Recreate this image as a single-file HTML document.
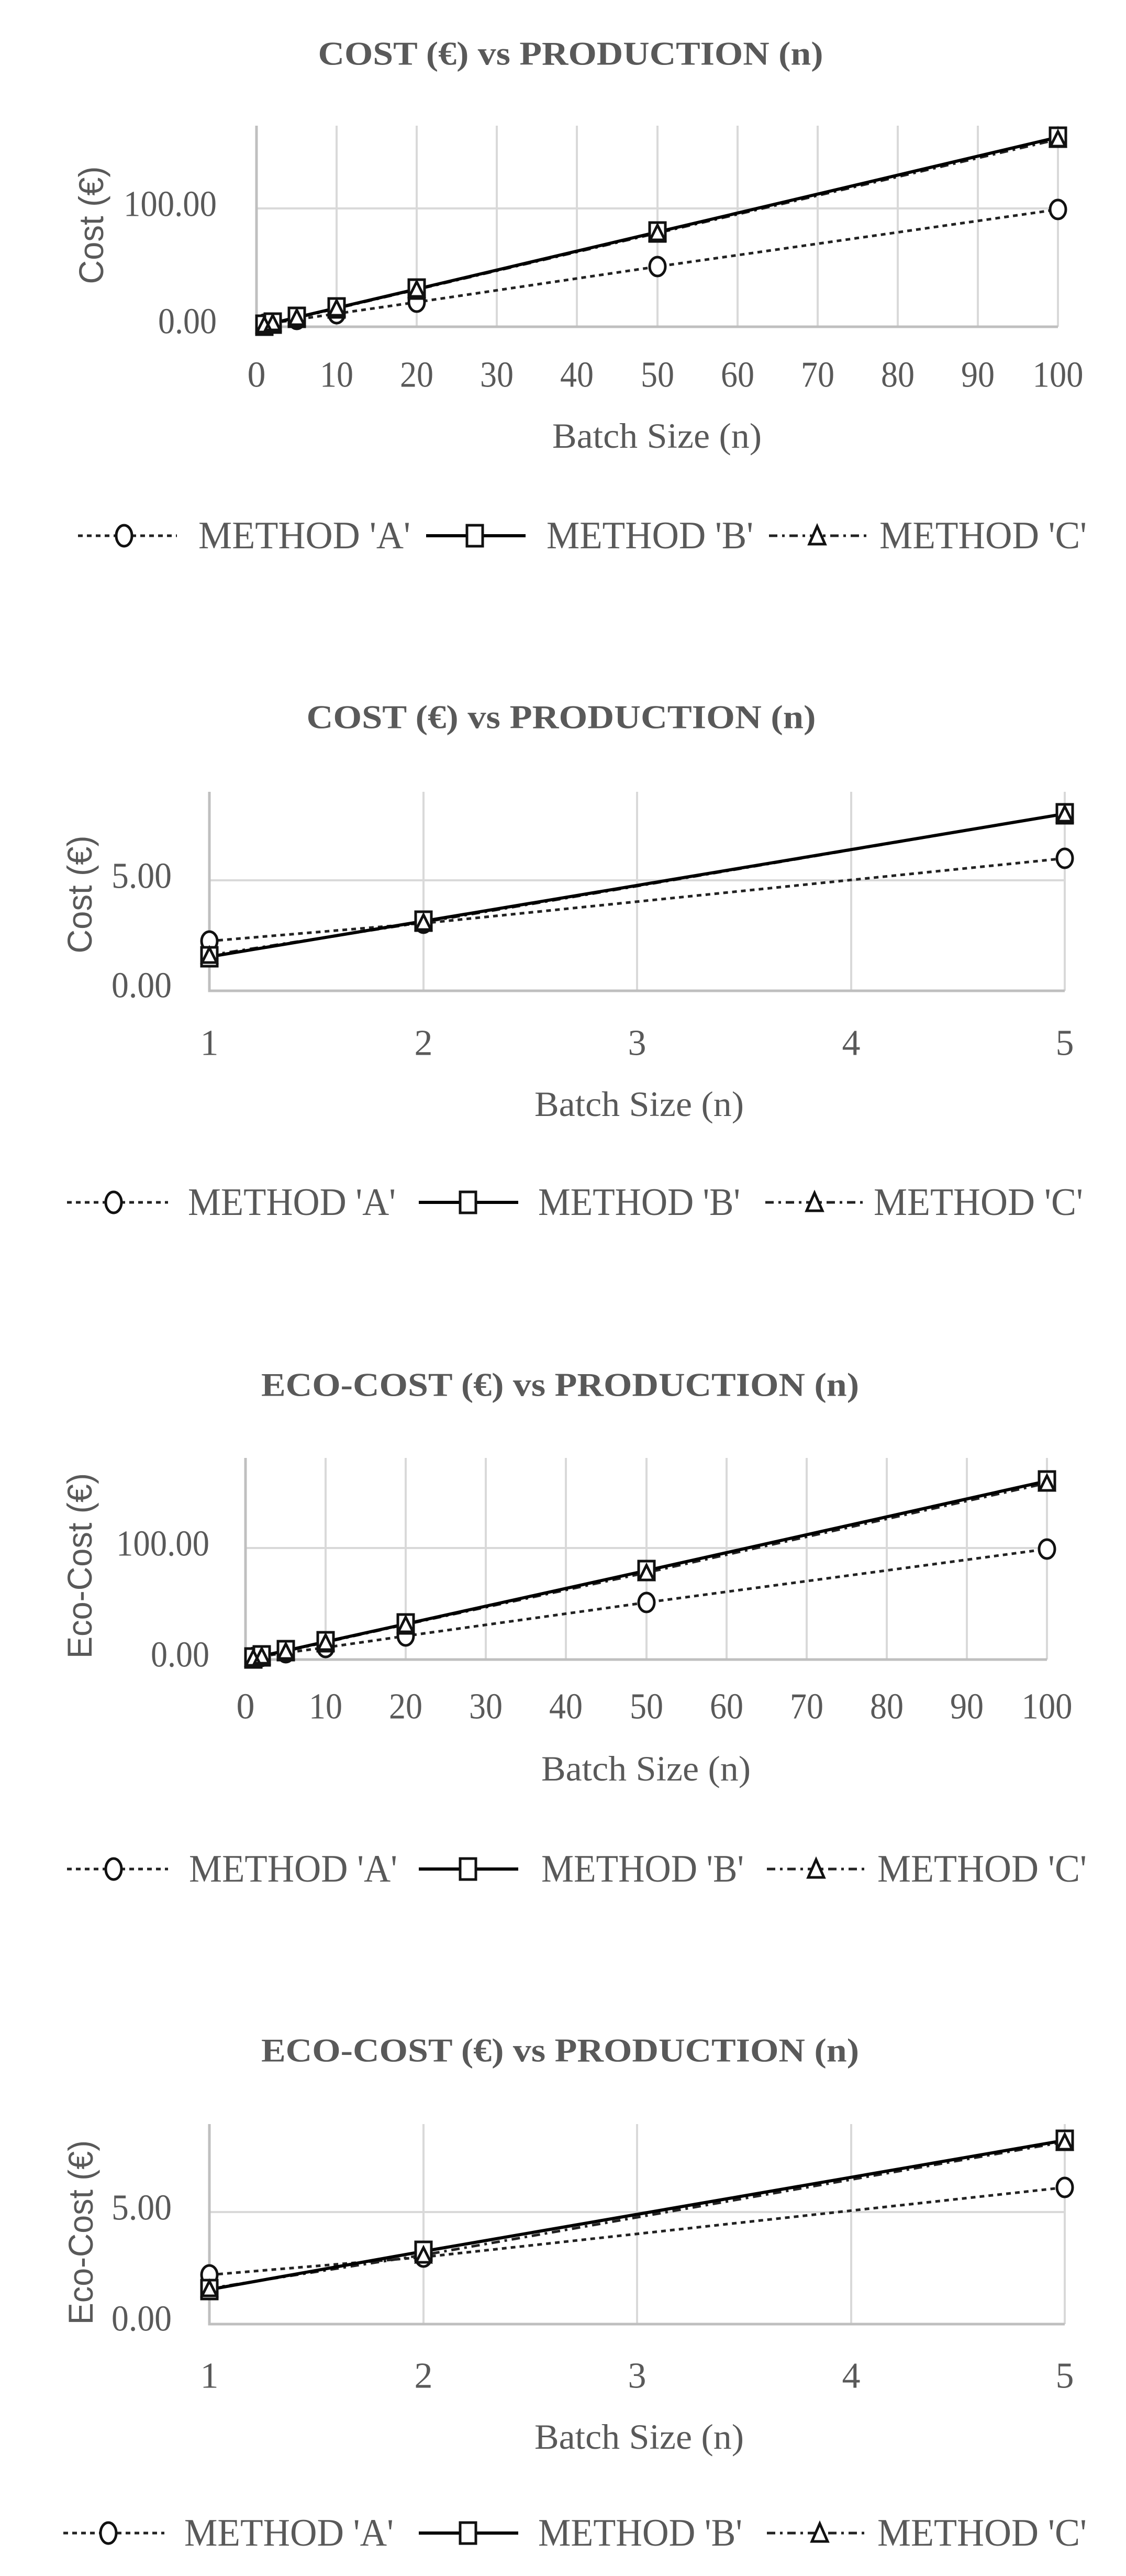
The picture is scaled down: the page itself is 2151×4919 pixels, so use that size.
<!DOCTYPE html>
<html><head><meta charset="utf-8"><style>
html,body{margin:0;padding:0;background:#fff}
svg{display:block}
text{font-family:"Liberation Serif",serif;fill:#595959}
.t{font-weight:bold;font-size:64px}
.tk{font-size:70px}
.ax{font-size:68px}
.yt{font-family:"Liberation Sans",sans-serif;font-size:66px}
.lg{font-size:74px}
.g{stroke:#d9d9d9;stroke-width:4;fill:none}
.b{stroke:#bfbfbf;stroke-width:5;fill:none}
.la{stroke:#222;stroke-width:5;stroke-dasharray:9 8;fill:none}
.lb{stroke:#000;stroke-width:6;fill:none}
.lc{stroke:#222;stroke-width:5;stroke-dasharray:16 9 5 9;fill:none}
.m{fill:#fff;stroke:#111;stroke-width:5}
</style></head><body>
<svg width="2151" height="4919" viewBox="0 0 2151 4919" xmlns="http://www.w3.org/2000/svg">
<rect width="2151" height="4919" fill="#fff"/>

<!-- ===== CHART 1 ===== -->
<text class="t" x="1090" y="102" text-anchor="middle" dominant-baseline="central" textLength="965" lengthAdjust="spacingAndGlyphs">COST (€) vs PRODUCTION (n)</text>
<g class="g">
<path d="M643 240V624M796 240V624M949 240V624M1102 240V624M1256 240V624M1409 240V624M1562 240V624M1715 240V624M1868 240V624M2021 240V624M490 398H2021"/>
</g>
<path class="b" d="M490 240V624H2021"/>
<text class="tk" x="414" y="390" text-anchor="end" dominant-baseline="central" textLength="178" lengthAdjust="spacingAndGlyphs">100.00</text>
<text class="tk" x="414" y="614" text-anchor="end" dominant-baseline="central" textLength="112" lengthAdjust="spacingAndGlyphs">0.00</text>
<g class="tk" text-anchor="middle">
<text x="490" y="716" dominant-baseline="central">0</text>
<text x="643" y="716" dominant-baseline="central" textLength="64" lengthAdjust="spacingAndGlyphs">10</text>
<text x="796" y="716" dominant-baseline="central" textLength="64" lengthAdjust="spacingAndGlyphs">20</text>
<text x="949" y="716" dominant-baseline="central" textLength="64" lengthAdjust="spacingAndGlyphs">30</text>
<text x="1102" y="716" dominant-baseline="central" textLength="64" lengthAdjust="spacingAndGlyphs">40</text>
<text x="1256" y="716" dominant-baseline="central" textLength="64" lengthAdjust="spacingAndGlyphs">50</text>
<text x="1409" y="716" dominant-baseline="central" textLength="64" lengthAdjust="spacingAndGlyphs">60</text>
<text x="1562" y="716" dominant-baseline="central" textLength="64" lengthAdjust="spacingAndGlyphs">70</text>
<text x="1715" y="716" dominant-baseline="central" textLength="64" lengthAdjust="spacingAndGlyphs">80</text>
<text x="1868" y="716" dominant-baseline="central" textLength="64" lengthAdjust="spacingAndGlyphs">90</text>
<text x="2021" y="716" dominant-baseline="central" textLength="97" lengthAdjust="spacingAndGlyphs">100</text>
</g>
<text class="ax" x="1255" y="832" text-anchor="middle" dominant-baseline="central" textLength="400" lengthAdjust="spacingAndGlyphs">Batch Size (n)</text>
<text class="yt" transform="translate(174 430) rotate(-90)" text-anchor="middle" dominant-baseline="central" textLength="225" lengthAdjust="spacingAndGlyphs">Cost (€)</text>
<polyline class="la" points="505,619.5 521,617 567,610 643,599 796,577 1256,509 2021,400"/>
<polyline class="lc" points="505,621 521,617 567,607 643,589 796,553 1256,445 2021,266"/>
<polyline class="lb" points="505,621 521,617 567,606 643,588 796,552 1256,443 2021,262"/>
<g class="m">
<ellipse cx="505" cy="619" rx="15" ry="18"/><ellipse cx="521" cy="617" rx="15" ry="18"/><ellipse cx="567" cy="610" rx="15" ry="18"/><ellipse cx="643" cy="599" rx="15" ry="18"/><ellipse cx="796" cy="577" rx="15" ry="18"/><ellipse cx="1256" cy="509" rx="15" ry="18"/><ellipse cx="2021" cy="400" rx="15" ry="18"/>
<rect x="490" y="603" width="30" height="36"/><rect x="506" y="599" width="30" height="36"/><rect x="552" y="588" width="30" height="36"/><rect x="628" y="570" width="30" height="36"/><rect x="781" y="534" width="30" height="36"/><rect x="1241" y="425" width="30" height="36"/><rect x="2006" y="244" width="30" height="36"/>
<path d="M505 606L519 634H491ZM521 602L535 630H507ZM567 592L581 620H553ZM643 574L657 602H629ZM796 538L810 566H782ZM1256 430L1270 458H1242ZM2021 251L2035 279H2007Z"/>
</g>
<!-- legend 1 -->
<line class="la" x1="149" y1="1023" x2="338" y2="1023"/>
<ellipse class="m" cx="237" cy="1023" rx="15" ry="20"/>
<text class="lg" x="379" y="1023" dominant-baseline="central" textLength="405" lengthAdjust="spacingAndGlyphs">METHOD 'A'</text>
<line class="lb" x1="814" y1="1023" x2="1004" y2="1023"/>
<rect class="m" x="892" y="1003" width="30" height="40"/>
<text class="lg" x="1044" y="1023" dominant-baseline="central" textLength="395" lengthAdjust="spacingAndGlyphs">METHOD 'B'</text>
<line class="lc" x1="1469" y1="1023" x2="1655" y2="1023"/>
<path class="m" d="M1561 1005L1576 1039H1546Z"/>
<text class="lg" x="1680" y="1023" dominant-baseline="central" textLength="396" lengthAdjust="spacingAndGlyphs">METHOD 'C'</text>

<!-- ===== CHART 2 ===== -->
<text class="t" x="1072" y="1369" text-anchor="middle" dominant-baseline="central" textLength="973" lengthAdjust="spacingAndGlyphs">COST (€) vs PRODUCTION (n)</text>
<path class="g" d="M809 1512V1892M1217 1512V1892M1626 1512V1892M2034 1512V1892M400 1681H2034"/>
<path class="b" d="M400 1512V1892H2034"/>
<text class="tk" x="328" y="1673" text-anchor="end" dominant-baseline="central" textLength="115" lengthAdjust="spacingAndGlyphs">5.00</text>
<text class="tk" x="328" y="1882" text-anchor="end" dominant-baseline="central" textLength="115" lengthAdjust="spacingAndGlyphs">0.00</text>
<g class="tk" text-anchor="middle">
<text x="400" y="1992" dominant-baseline="central">1</text>
<text x="809" y="1992" dominant-baseline="central">2</text>
<text x="1217" y="1992" dominant-baseline="central">3</text>
<text x="1626" y="1992" dominant-baseline="central">4</text>
<text x="2034" y="1992" dominant-baseline="central">5</text>
</g>
<text class="ax" x="1221" y="2108" text-anchor="middle" dominant-baseline="central" textLength="400" lengthAdjust="spacingAndGlyphs">Batch Size (n)</text>
<text class="yt" transform="translate(152 1708) rotate(-90)" text-anchor="middle" dominant-baseline="central" textLength="225" lengthAdjust="spacingAndGlyphs">Cost (€)</text>
<polyline class="la" points="400,1797 809,1763 2034,1639"/>
<polyline class="lc" points="400,1824 809,1761 2034,1554"/>
<polyline class="lb" points="400,1827 809,1759 2034,1554"/>
<g class="m">
<ellipse cx="400" cy="1797" rx="15" ry="18"/><ellipse cx="809" cy="1763" rx="15" ry="18"/><ellipse cx="2034" cy="1639" rx="15" ry="18"/>
<rect x="385" y="1809" width="30" height="36"/><rect x="794" y="1741" width="30" height="36"/><rect x="2019" y="1536" width="30" height="36"/>
<path d="M400 1810L414 1838H386ZM809 1747L823 1775H795ZM2034 1540L2048 1568H2020Z"/>
</g>
<line class="la" x1="128" y1="2296" x2="321" y2="2296"/>
<ellipse class="m" cx="217" cy="2296" rx="15" ry="20"/>
<text class="lg" x="359" y="2296" dominant-baseline="central" textLength="397" lengthAdjust="spacingAndGlyphs">METHOD 'A'</text>
<line class="lb" x1="800" y1="2296" x2="990" y2="2296"/>
<rect class="m" x="879" y="2276" width="30" height="40"/>
<text class="lg" x="1028" y="2296" dominant-baseline="central" textLength="386" lengthAdjust="spacingAndGlyphs">METHOD 'B'</text>
<line class="lc" x1="1462" y1="2296" x2="1648" y2="2296"/>
<path class="m" d="M1556 2278L1571 2312H1541Z"/>
<text class="lg" x="1669" y="2296" dominant-baseline="central" textLength="400" lengthAdjust="spacingAndGlyphs">METHOD 'C'</text>

<!-- ===== CHART 3 ===== -->
<text class="t" x="1070" y="2644" text-anchor="middle" dominant-baseline="central" textLength="1142" lengthAdjust="spacingAndGlyphs">ECO-COST (€) vs PRODUCTION (n)</text>
<path class="g" d="M622 2784V3169M775 2784V3169M928 2784V3169M1081 2784V3169M1235 2784V3169M1388 2784V3169M1541 2784V3169M1694 2784V3169M1847 2784V3169M2000 2784V3169M469 2956H2000"/>
<path class="b" d="M469 2784V3169H2000"/>
<text class="tk" x="400" y="2948" text-anchor="end" dominant-baseline="central" textLength="178" lengthAdjust="spacingAndGlyphs">100.00</text>
<text class="tk" x="400" y="3160" text-anchor="end" dominant-baseline="central" textLength="112" lengthAdjust="spacingAndGlyphs">0.00</text>
<g class="tk" text-anchor="middle">
<text x="469" y="3259" dominant-baseline="central">0</text>
<text x="622" y="3259" dominant-baseline="central" textLength="64" lengthAdjust="spacingAndGlyphs">10</text>
<text x="775" y="3259" dominant-baseline="central" textLength="64" lengthAdjust="spacingAndGlyphs">20</text>
<text x="928" y="3259" dominant-baseline="central" textLength="64" lengthAdjust="spacingAndGlyphs">30</text>
<text x="1081" y="3259" dominant-baseline="central" textLength="64" lengthAdjust="spacingAndGlyphs">40</text>
<text x="1235" y="3259" dominant-baseline="central" textLength="64" lengthAdjust="spacingAndGlyphs">50</text>
<text x="1388" y="3259" dominant-baseline="central" textLength="64" lengthAdjust="spacingAndGlyphs">60</text>
<text x="1541" y="3259" dominant-baseline="central" textLength="64" lengthAdjust="spacingAndGlyphs">70</text>
<text x="1694" y="3259" dominant-baseline="central" textLength="64" lengthAdjust="spacingAndGlyphs">80</text>
<text x="1847" y="3259" dominant-baseline="central" textLength="64" lengthAdjust="spacingAndGlyphs">90</text>
<text x="2000" y="3259" dominant-baseline="central" textLength="97" lengthAdjust="spacingAndGlyphs">100</text>
</g>
<text class="ax" x="1234" y="3377" text-anchor="middle" dominant-baseline="central" textLength="400" lengthAdjust="spacingAndGlyphs">Batch Size (n)</text>
<text class="yt" transform="translate(152 2990) rotate(-90)" text-anchor="middle" dominant-baseline="central" textLength="354" lengthAdjust="spacingAndGlyphs">Eco-Cost (€)</text>
<polyline class="la" points="484,3165 500,3163 546,3156 622,3146 775,3124 1235,3060 2000,2958"/>
<polyline class="lc" points="484,3166 500,3162 546,3153 622,3136 775,3102 1235,3003 2000,2832"/>
<polyline class="lb" points="484,3166 500,3162 546,3152 622,3135 775,3101 1235,2999 2000,2828"/>
<g class="m">
<ellipse cx="484" cy="3165" rx="15" ry="18"/><ellipse cx="500" cy="3163" rx="15" ry="18"/><ellipse cx="546" cy="3156" rx="15" ry="18"/><ellipse cx="622" cy="3146" rx="15" ry="18"/><ellipse cx="775" cy="3124" rx="15" ry="18"/><ellipse cx="1235" cy="3060" rx="15" ry="18"/><ellipse cx="2000" cy="2958" rx="15" ry="18"/>
<rect x="469" y="3148" width="30" height="36"/><rect x="485" y="3144" width="30" height="36"/><rect x="531" y="3134" width="30" height="36"/><rect x="607" y="3117" width="30" height="36"/><rect x="760" y="3083" width="30" height="36"/><rect x="1220" y="2981" width="30" height="36"/><rect x="1985" y="2810" width="30" height="36"/>
<path d="M484 3152L498 3180H470ZM500 3148L514 3176H486ZM546 3139L560 3167H532ZM622 3122L636 3150H608ZM775 3088L789 3116H761ZM1235 2989L1249 3017H1221ZM2000 2818L2014 2846H1986Z"/>
</g>
<line class="la" x1="128" y1="3569" x2="321" y2="3569"/>
<ellipse class="m" cx="217" cy="3569" rx="15" ry="20"/>
<text class="lg" x="361" y="3569" dominant-baseline="central" textLength="398" lengthAdjust="spacingAndGlyphs">METHOD 'A'</text>
<line class="lb" x1="800" y1="3569" x2="990" y2="3569"/>
<rect class="m" x="879" y="3549" width="30" height="40"/>
<text class="lg" x="1034" y="3569" dominant-baseline="central" textLength="387" lengthAdjust="spacingAndGlyphs">METHOD 'B'</text>
<line class="lc" x1="1465" y1="3569" x2="1652" y2="3569"/>
<path class="m" d="M1559 3551L1574 3585H1544Z"/>
<text class="lg" x="1676" y="3569" dominant-baseline="central" textLength="400" lengthAdjust="spacingAndGlyphs">METHOD 'C'</text>

<!-- ===== CHART 4 ===== -->
<text class="t" x="1070" y="3915" text-anchor="middle" dominant-baseline="central" textLength="1142" lengthAdjust="spacingAndGlyphs">ECO-COST (€) vs PRODUCTION (n)</text>
<path class="g" d="M809 4056V4438M1217 4056V4438M1626 4056V4438M2034 4056V4438M400 4224H2034"/>
<path class="b" d="M400 4056V4438H2034"/>
<text class="tk" x="328" y="4216" text-anchor="end" dominant-baseline="central" textLength="115" lengthAdjust="spacingAndGlyphs">5.00</text>
<text class="tk" x="328" y="4428" text-anchor="end" dominant-baseline="central" textLength="115" lengthAdjust="spacingAndGlyphs">0.00</text>
<g class="tk" text-anchor="middle">
<text x="400" y="4537" dominant-baseline="central">1</text>
<text x="809" y="4537" dominant-baseline="central">2</text>
<text x="1217" y="4537" dominant-baseline="central">3</text>
<text x="1626" y="4537" dominant-baseline="central">4</text>
<text x="2034" y="4537" dominant-baseline="central">5</text>
</g>
<text class="ax" x="1221" y="4653" text-anchor="middle" dominant-baseline="central" textLength="400" lengthAdjust="spacingAndGlyphs">Batch Size (n)</text>
<text class="yt" transform="translate(154 4263) rotate(-90)" text-anchor="middle" dominant-baseline="central" textLength="352" lengthAdjust="spacingAndGlyphs">Eco-Cost (€)</text>
<polyline class="la" points="400,4344 809,4310 2034,4177"/>
<polyline class="lc" points="400,4370 809,4306 2034,4090"/>
<polyline class="lb" points="400,4372 809,4299 2034,4087"/>
<g class="m">
<ellipse cx="400" cy="4344" rx="15" ry="18"/><ellipse cx="809" cy="4310" rx="15" ry="18"/><ellipse cx="2034" cy="4177" rx="15" ry="18"/>
<rect x="385" y="4354" width="30" height="36"/><rect x="794" y="4281" width="30" height="36"/><rect x="2019" y="4069" width="30" height="36"/>
<path d="M400 4356L414 4384H386ZM809 4292L823 4320H795ZM2034 4076L2048 4104H2020Z"/>
</g>
<line class="la" x1="121" y1="4837" x2="314" y2="4837"/>
<ellipse class="m" cx="207" cy="4837" rx="15" ry="20"/>
<text class="lg" x="352" y="4837" dominant-baseline="central" textLength="400" lengthAdjust="spacingAndGlyphs">METHOD 'A'</text>
<line class="lb" x1="800" y1="4837" x2="990" y2="4837"/>
<rect class="m" x="879" y="4817" width="30" height="40"/>
<text class="lg" x="1028" y="4837" dominant-baseline="central" textLength="390" lengthAdjust="spacingAndGlyphs">METHOD 'B'</text>
<line class="lc" x1="1465" y1="4837" x2="1652" y2="4837"/>
<path class="m" d="M1566 4819L1581 4853H1551Z"/>
<text class="lg" x="1676" y="4837" dominant-baseline="central" textLength="400" lengthAdjust="spacingAndGlyphs">METHOD 'C'</text>
</svg>
</body></html>
